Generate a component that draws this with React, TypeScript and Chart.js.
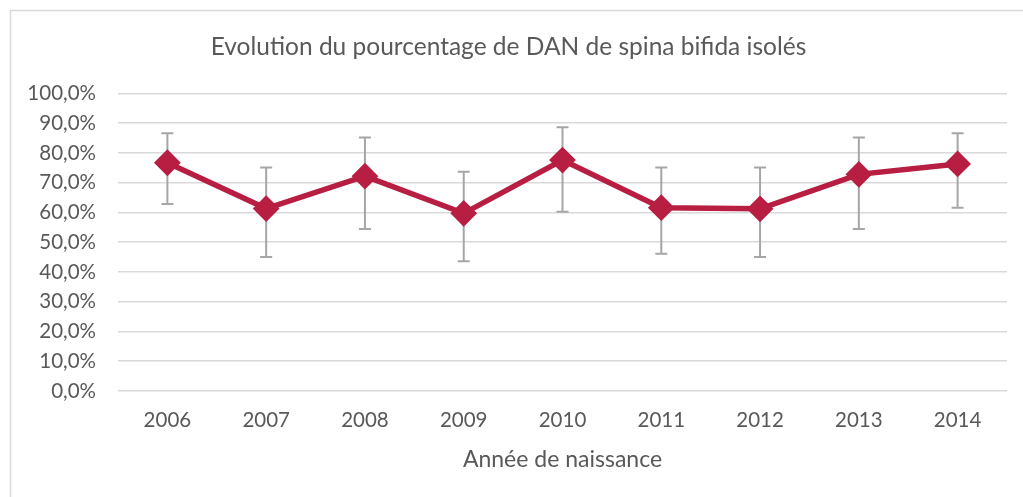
import React, { useEffect, useRef } from "react";
import { Chart, registerables } from "chart.js";

Chart.register(...registerables);

const years = ["2006", "2007", "2008", "2009", "2010", "2011", "2012", "2013", "2014"];
const percentDAN = [76.7, 61.3, 72.2, 59.7, 77.6, 61.6, 61.2, 72.8, 76.3];
const lowerCI = [62.8, 45.0, 54.4, 43.6, 60.2, 46.1, 45.0, 54.4, 61.6];
const upperCI = [86.6, 75.1, 85.2, 73.7, 88.6, 75.1, 75.1, 85.2, 86.6];

const TEXT = "#595959";
const FONT = "Lato, 'Open Sans', sans-serif";

const errorBarPlugin = {
  id: "errorBars",
  beforeDatasetsDraw(chart: any) {
    const { ctx, scales } = chart;
    const meta = chart.getDatasetMeta(0);
    ctx.save();
    ctx.strokeStyle = "#a6a6a6";
    ctx.lineWidth = 2;
    meta.data.forEach((pt: any, i: number) => {
      const x = pt.x;
      const yLo = scales.y.getPixelForValue(lowerCI[i]);
      const yHi = scales.y.getPixelForValue(upperCI[i]);
      ctx.beginPath();
      ctx.moveTo(x, yLo);
      ctx.lineTo(x, yHi);
      ctx.moveTo(x - 6, yLo);
      ctx.lineTo(x + 6, yLo);
      ctx.moveTo(x - 6, yHi);
      ctx.lineTo(x + 6, yHi);
      ctx.stroke();
    });
    ctx.restore();
  },
};

const borderPlugin = {
  id: "frame",
  beforeDraw(chart: any) {
    const { ctx, width, height } = chart;
    ctx.save();
    ctx.fillStyle = "#ffffff";
    ctx.fillRect(0, 0, width, height);
    ctx.strokeStyle = "#d9d9d9";
    ctx.lineWidth = 1.5;
    ctx.beginPath();
    ctx.moveTo(10.5, height);
    ctx.lineTo(10.5, 10.5);
    ctx.lineTo(width, 10.5);
    ctx.stroke();
    ctx.restore();
  },
};

export default function App() {
  const ref = useRef<HTMLCanvasElement>(null);
  useEffect(() => {
    document.body.style.margin = "0";
    const chart = new Chart(ref.current!, {
      type: "line",
      data: {
        labels: years,
        datasets: [
          {
            data: percentDAN,
            borderColor: "#B71E42",
            backgroundColor: "#B71E42",
            borderWidth: 5.5,
            pointStyle: "rectRot",
            pointRadius: 9.5,
            pointHoverRadius: 9.5,
            tension: 0,
          },
        ],
      },
      options: {
        animation: false,
        responsive: false,
        layout: { padding: { left: 10, right: 16, top: 10, bottom: 24 } },
        plugins: {
          legend: { display: false },
          tooltip: { enabled: false },
          title: {
            display: true,
            text: "Evolution du pourcentage de DAN de spina bifida isolés",
            color: TEXT,
            font: { family: FONT, size: 24.5, weight: "normal" },
            padding: { top: 22, bottom: 32 },
          },
        },
        scales: {
          x: {
            offset: true,
            afterFit: (s: any) => {
              s.height = 82;
            },
            grid: { display: false, drawTicks: false },
            border: { display: false },
            ticks: { color: TEXT, font: { family: FONT, size: 20.5 }, padding: 17 },
            title: {
              display: true,
              text: "Année de naissance",
              color: TEXT,
              font: { family: FONT, size: 23 },
              padding: { top: 0, bottom: 0 },
            },
          },
          y: {
            min: 0,
            max: 100,
            afterFit: (s: any) => {
              s.width = 108;
            },
            grid: { color: "#d9d9d9", lineWidth: 1.5, drawTicks: false },
            border: { display: false },
            ticks: {
              stepSize: 10,
              color: TEXT,
              padding: 22,
              font: { family: FONT, size: 20.5 },
              callback: (v: any) => Number(v).toFixed(1).replace(".", ",") + "%",
            },
          },
        },
      },
      plugins: [errorBarPlugin, borderPlugin],
    } as any);
    return () => chart.destroy();
  }, []);
  return (
    <div style={{ position: "absolute", left: 0, top: 0, width: 1023, height: 497 }}>
      <canvas ref={ref} width={1023} height={497} />
    </div>
  );
}
